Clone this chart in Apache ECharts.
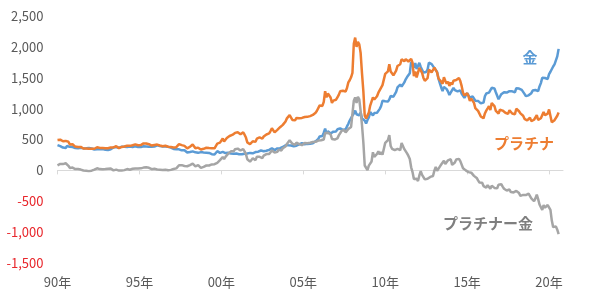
<!DOCTYPE html>
<html>
<head>
<meta charset="utf-8">
<script src="https://cdn.jsdelivr.net/npm/echarts@6/dist/echarts.min.js"></script>
<style>
html,body{margin:0;padding:0;background:#fff;}
#chart{width:600px;height:299px;}
</style>
</head>
<body>
<div id="chart"></div>
<script>
// Monthly series, Jan 1990 .. Aug 2020 (USD/oz)
const startYear = 1990;
const xTicks = [1990, 1995, 2000, 2005, 2010, 2015, 2020];
const yTicks = [-1500, -1000, -500, 0, 500, 1000, 1500, 2000, 2500];
const seriesNames = ['金', 'プラチナ', 'プラチナー金'];

const gold = [
410,417,393,374,369,352,362,395,389,381,381,378,
383,363,363,358,357,367,368,356,348,358,360,361,
354,354,345,338,337,341,353,343,345,344,335,334,
329,330,330,342,367,371,392,379,355,364,374,383,
387,382,384,378,381,386,385,380,391,389,384,379,
379,377,382,391,385,387,386,383,383,383,386,387,
399,405,396,393,392,385,383,387,383,381,378,369,
355,347,352,344,344,341,324,324,323,325,306,289,
289,297,296,308,299,292,293,284,289,296,294,291,
287,287,286,282,277,262,256,257,265,311,293,283,
284,300,286,280,275,285,282,274,273,270,266,272,
266,262,263,261,272,270,268,273,284,283,276,276,
282,296,294,302,314,322,314,310,319,317,319,333,
357,359,340,328,355,356,351,360,379,379,389,407,
414,405,406,404,384,392,398,400,406,420,439,442,
424,423,434,429,422,431,424,438,456,470,476,510,
549,555,557,610,676,596,633,632,598,585,627,629,
631,665,655,679,667,655,665,665,712,754,806,803,
889,922,968,909,888,889,939,839,829,806,760,816,
858,943,924,890,928,946,934,949,996,1043,1127,1135,
1118,1095,1114,1149,1205,1233,1193,1215,1271,1343,1370,1391,
1356,1372,1424,1474,1512,1529,1573,1756,1772,1666,1739,1641,
1656,1742,1674,1650,1585,1596,1594,1630,1744,1747,1721,1688,
1670,1627,1593,1487,1414,1343,1285,1352,1349,1316,1275,1221,
1244,1300,1336,1299,1287,1279,1311,1296,1239,1222,1176,1201,
1250,1227,1179,1198,1199,1181,1128,1117,1125,1157,1086,1068,
1097,1199,1246,1243,1260,1276,1337,1341,1326,1266,1236,1152,
1192,1234,1231,1266,1246,1260,1237,1283,1314,1280,1283,1265,
1331,1331,1325,1335,1304,1281,1238,1202,1199,1215,1221,1250,
1292,1320,1301,1286,1284,1359,1413,1500,1510,1495,1471,1480,
1560,1597,1592,1683,1716,1732,1846,1968
];

const platinum = [
491,509,497,482,471,472,477,478,463,421,418,423,
413,385,386,380,377,380,373,354,350,353,359,349,
345,349,345,350,360,375,383,364,363,363,354,357,
356,358,351,372,379,371,401,391,366,360,369,380,
390,386,392,399,395,397,405,406,419,421,409,408,
419,410,406,436,431,436,433,424,424,402,412,412,
415,418,409,403,400,391,393,398,389,382,382,377,
357,369,381,376,383,425,422,409,380,397,376,356,
371,383,398,418,400,357,380,368,347,337,349,349,
352,366,370,361,356,358,351,358,376,434,442,449,
430,517,468,499,524,556,557,582,574,578,607,617,
618,594,585,600,615,578,531,453,437,424,429,472,
474,462,513,542,533,565,514,549,553,581,591,598,
637,682,678,616,648,656,684,699,702,737,761,793,
842,851,894,883,816,803,811,849,830,845,843,850,
864,865,867,867,863,879,877,898,910,932,965,992,
1053,1042,1043,1110,1283,1184,1244,1241,1180,1094,1129,1128,
1144,1183,1222,1280,1306,1290,1319,1278,1333,1425,1460,1507,
1577,2050,2150,2000,2080,2040,1900,1572,1280,885,842,822,
935,1050,1067,1183,1148,1155,1201,1258,1255,1340,1380,1411,
1563,1532,1604,1720,1600,1583,1540,1543,1614,1691,1717,1718,
1800,1830,1768,1801,1787,1763,1757,1806,1745,1528,1601,1506,
1483,1660,1661,1578,1497,1450,1431,1493,1630,1641,1589,1596,
1666,1681,1585,1488,1475,1437,1401,1508,1452,1404,1437,1367,
1425,1389,1451,1427,1463,1452,1497,1446,1364,1257,1215,1201,
1248,1199,1126,1161,1140,1092,1009,994,963,961,874,869,
843,922,967,1003,1040,977,1090,1116,1042,963,946,921,
982,1011,968,969,933,935,916,973,963,920,926,908,
998,992,957,923,903,884,835,803,808,838,855,797,
807,820,847,894,818,806,844,858,946,892,900,919,
986,958,779,764,813,825,885,937
];

const spread = [
81,92,104,108,102,120,115,83,74,40,37,45,
30,22,23,22,20,13,5,-2,2,-5,-1,-12,
-9,-5,0,12,23,34,30,21,18,19,19,23,
27,28,21,30,12,0,9,12,11,-4,-5,-3,
3,4,8,21,14,11,20,26,28,32,25,29,
40,33,24,45,46,49,47,41,41,19,26,25,
16,13,13,10,8,6,10,11,6,1,4,8,
2,22,29,32,39,84,98,85,57,72,70,67,
82,86,102,110,101,65,87,84,58,41,55,58,
65,79,84,79,79,96,95,101,111,123,149,166,
146,217,182,219,249,271,275,308,301,308,341,345,
352,332,322,339,343,308,263,180,153,141,153,196,
192,166,219,240,219,243,200,239,234,264,272,265,
280,323,338,288,293,300,333,339,323,358,372,386,
428,446,488,479,432,411,413,449,424,425,404,408,
440,442,433,438,441,448,453,460,454,462,489,482,
504,487,486,500,607,588,611,609,582,509,502,499,
513,518,567,601,639,635,654,613,621,671,654,704,
688,1128,1182,1091,1192,1151,961,733,451,79,82,6,
77,107,143,293,220,209,267,309,259,297,253,276,
445,437,490,571,395,350,347,328,343,348,347,327,
444,458,344,327,275,234,184,50,-27,-138,-138,-135,
-173,-82,-13,-72,-88,-146,-163,-137,-114,-106,-132,-92,
-4,54,-8,1,61,94,116,156,103,88,162,146,
181,89,115,128,176,173,186,150,125,35,39,0,
-2,-28,-53,-37,-59,-89,-119,-123,-162,-196,-212,-199,
-254,-277,-279,-240,-220,-299,-247,-225,-284,-303,-290,-231,
-210,-223,-263,-297,-313,-325,-321,-310,-351,-360,-357,-357,
-333,-339,-368,-412,-401,-397,-403,-399,-391,-377,-366,-453,
-485,-500,-454,-392,-466,-553,-569,-642,-564,-603,-571,-561,
-574,-639,-813,-919,-903,-907,-961,-1031
];

const toPairs = arr => arr.map((v, i) => [startYear + i / 12, v]);

const FONT = '"Noto Sans CJK JP", "Noto Sans", sans-serif';
const xMin = 1990, xMax = 2020.85;

const chart = echarts.init(document.getElementById('chart'), null, {renderer: 'canvas'});
chart.setOption({
  animation: false,
  backgroundColor: '#fff',
  grid: {left: 57.5, right: 37, top: 16, bottom: 36, containLabel: false},
  xAxis: [{
    type: 'value', min: xMin, max: xMax, interval: 5, position: 'bottom',
    axisLine: {show: false, onZero: false},
    axisTick: {show: false},
    splitLine: {show: false},
    axisLabel: {
      customValues: xTicks, margin: 13, color: '#595959', fontSize: 13, fontFamily: FONT,
      formatter: v => String(Math.round(v) % 100).padStart(2, '0') + '年'
    }
  }, {
    type: 'value', min: xMin, max: xMax, interval: 5, position: 'top',
    axisLine: {show: true, onZero: true, lineStyle: {color: '#D9D9D9', width: 1}},
    axisTick: {show: true, inside: true, length: 4, customValues: xTicks, lineStyle: {color: '#D9D9D9'}},
    axisLabel: {show: false},
    splitLine: {show: false}
  }],
  yAxis: {
    type: 'value', min: -1500, max: 2500, interval: 500,
    axisLine: {show: false}, axisTick: {show: false}, splitLine: {show: false},
    axisLabel: {
      customValues: yTicks,
      margin: 14, fontSize: 13, fontFamily: FONT,
      color: v => (v < 0 ? '#E8262B' : '#595959'),
      formatter: v => v.toLocaleString('en-US')
    }
  },
  series: [
    {name: seriesNames[0], type: 'line', data: toPairs(gold), showSymbol: false, symbol: 'none',
     lineStyle: {color: '#5B9BD5', width: 2.5}, itemStyle: {color: '#5B9BD5'}},
    {name: seriesNames[1], type: 'line', data: toPairs(platinum), showSymbol: false, symbol: 'none',
     lineStyle: {color: '#ED7D31', width: 2.5}, itemStyle: {color: '#ED7D31'}},
    {name: seriesNames[2], type: 'line', data: toPairs(spread), showSymbol: false, symbol: 'none',
     lineStyle: {color: '#A5A5A5', width: 2.5}, itemStyle: {color: '#A5A5A5'}}
  ],
  graphic: [
    {type: 'text', x: 530, y: 57, style: {text: seriesNames[0], fill: '#5B9BD5', font: 'bold 15px ' + FONT, textAlign: 'center', textVerticalAlign: 'middle'}},
    {type: 'text', x: 524, y: 143, style: {text: seriesNames[1], fill: '#ED7D31', font: 'bold 15px ' + FONT, textAlign: 'center', textVerticalAlign: 'middle'}},
    {type: 'text', x: 488, y: 223, style: {text: seriesNames[2], fill: '#7F7F7F', font: 'bold 15px ' + FONT, textAlign: 'center', textVerticalAlign: 'middle'}}
  ]
});
</script>
</body>
</html>
